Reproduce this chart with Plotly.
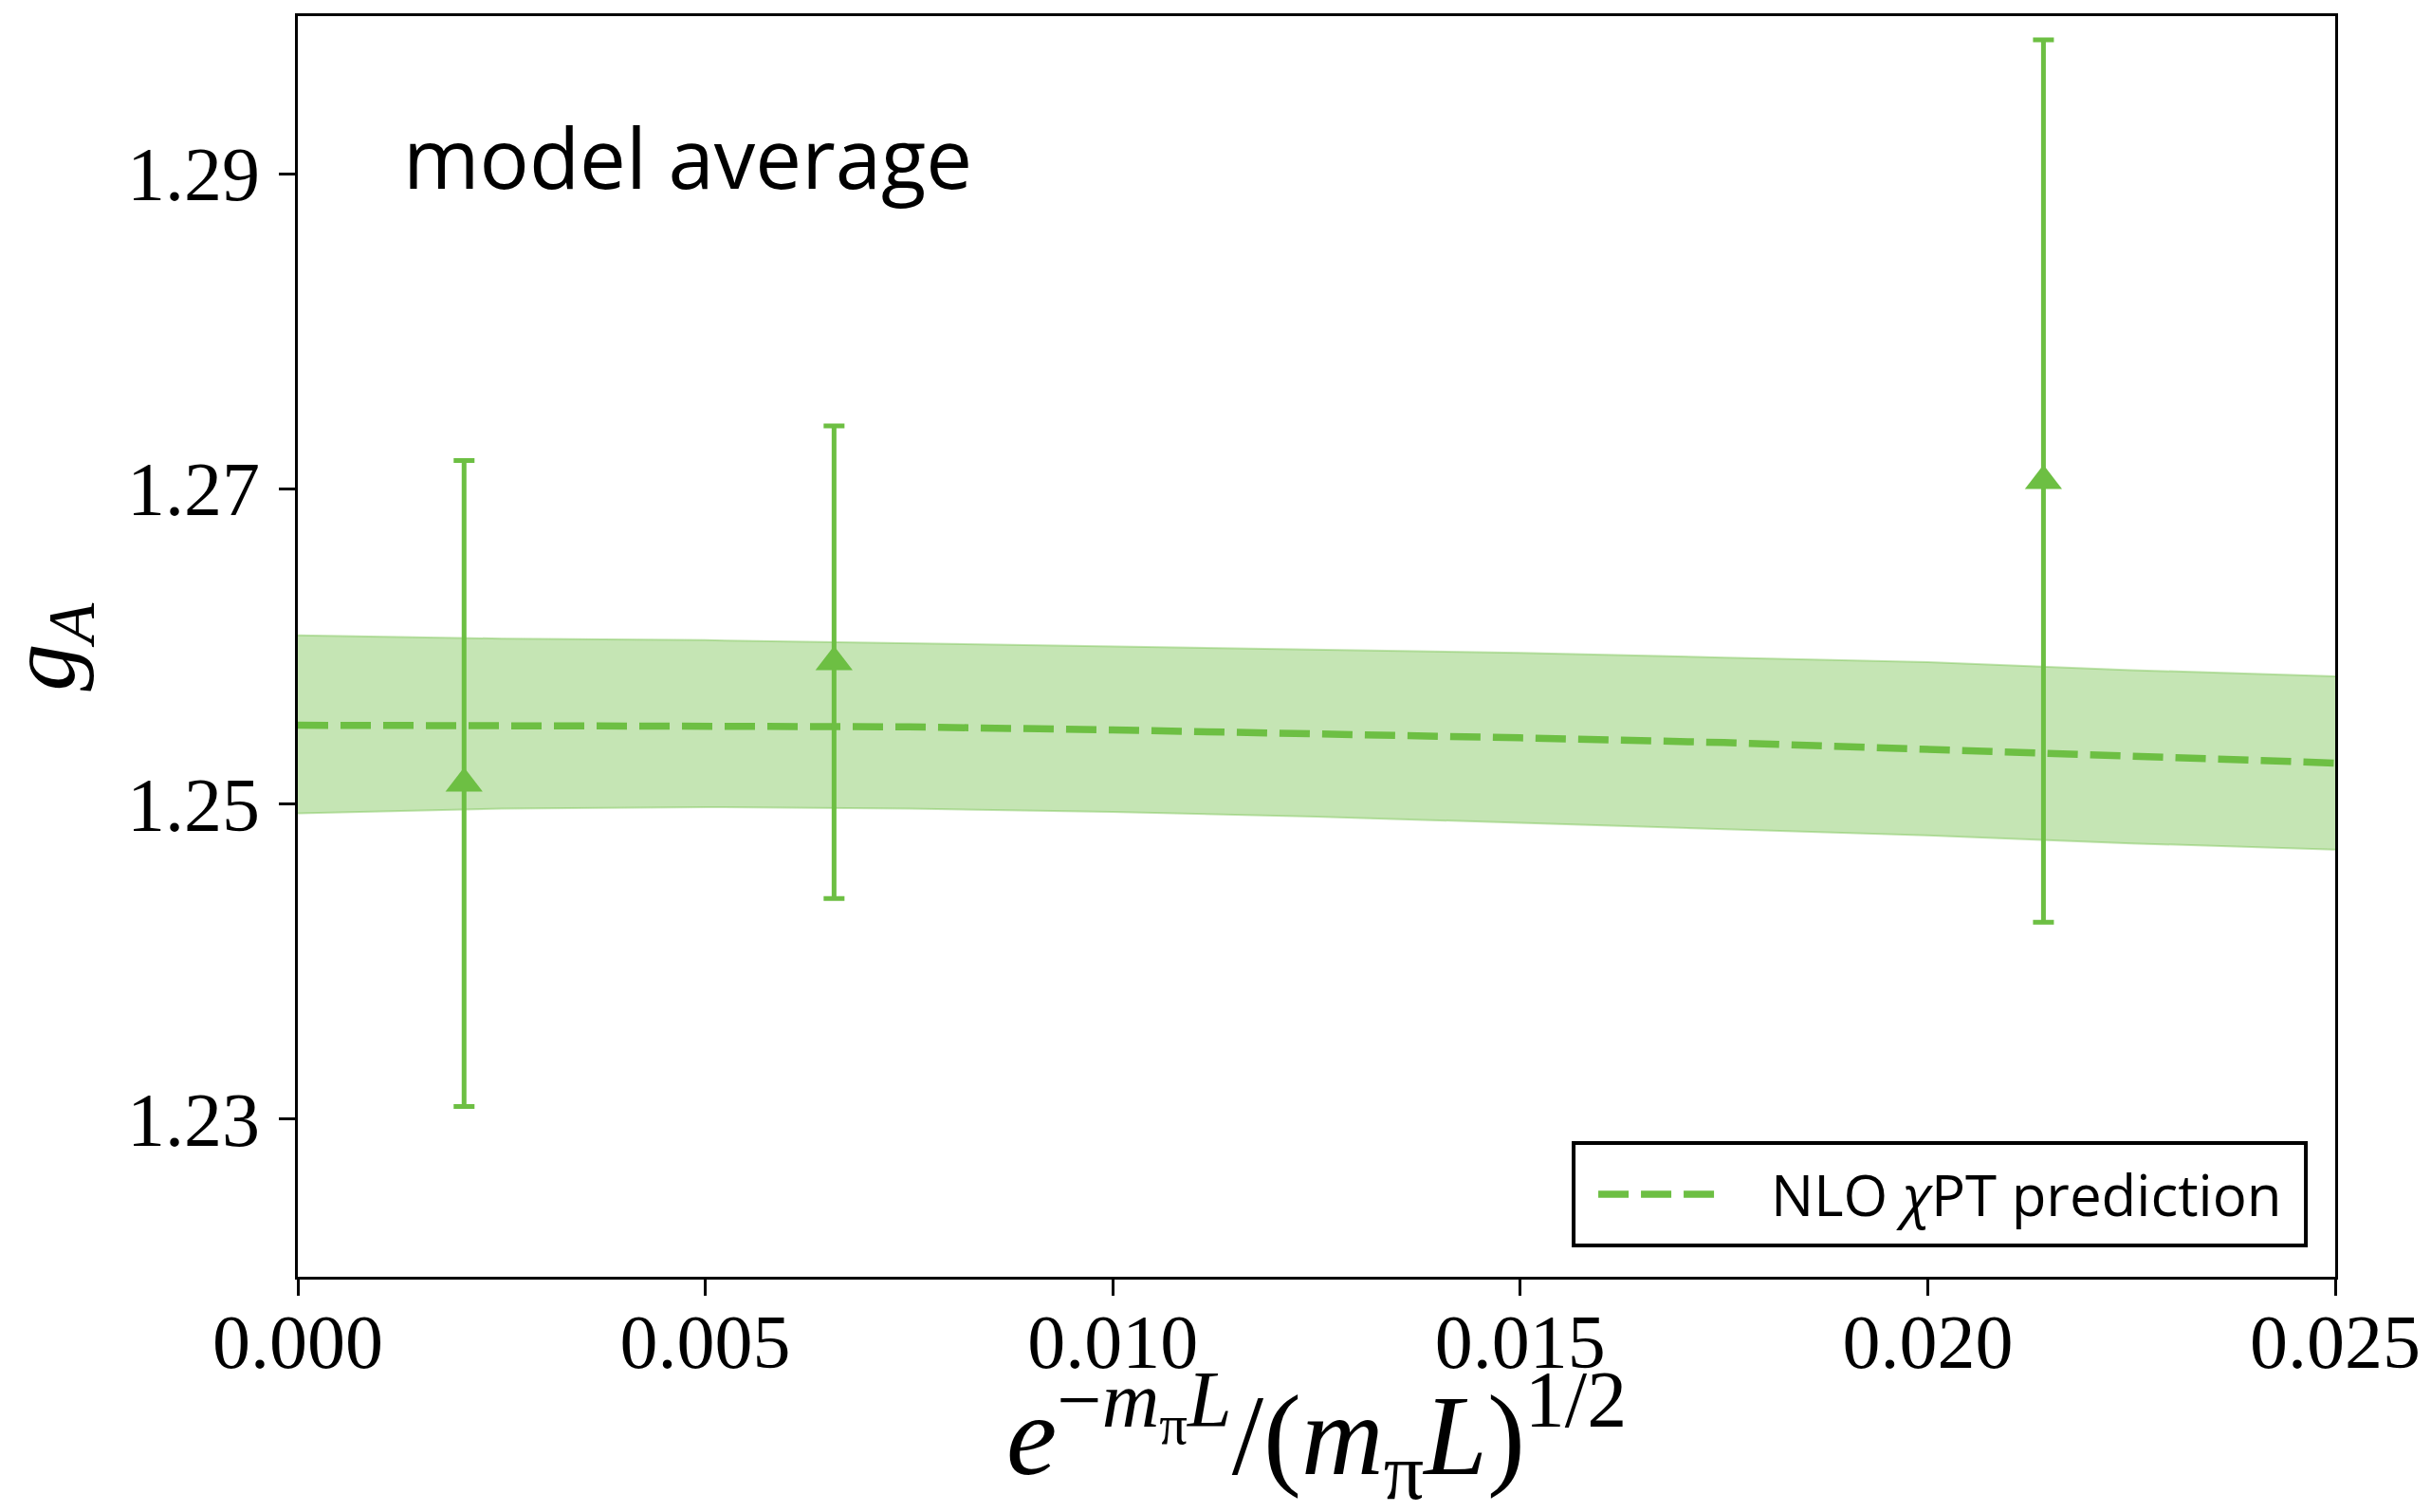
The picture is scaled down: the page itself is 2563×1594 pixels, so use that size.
import plotly.graph_objects as go

# Lattice data: finite-volume parameter and g_A with symmetric uncertainties
x_data = [0.00204, 0.00658, 0.02142]
ga_data = [1.2513, 1.2590, 1.2705]
ga_err = [0.0205, 0.0150, 0.0280]

# NLO chiral perturbation theory prediction: central curve and error band
x_band = [0.0, 0.0025, 0.005, 0.0075, 0.010, 0.0125, 0.015, 0.0175, 0.020, 0.0225, 0.025]
ga_center = [1.2550, 1.2550, 1.2550, 1.2549, 1.2547, 1.2545, 1.2542, 1.2539, 1.2535, 1.2530, 1.2526]
ga_lower = [1.2494, 1.2497, 1.2498, 1.2497, 1.2495, 1.2492, 1.2488, 1.2484, 1.2480, 1.2475, 1.2471]
ga_upper = [1.2607, 1.2605, 1.2604, 1.2602, 1.2600, 1.2598, 1.2596, 1.2593, 1.2590, 1.2585, 1.2581]

x_ticks = [0.0, 0.005, 0.010, 0.015, 0.020, 0.025]
y_ticks = [1.23, 1.25, 1.27, 1.29]

GREEN = "rgb(109,191,67)"
BAND = "rgba(109,191,67,0.4)"
SERIF = "Liberation Serif"
SANS = "Open Sans"
DASH = "32px,13px"

fig = go.Figure()

fig.add_trace(go.Scatter(x=x_band, y=ga_lower, mode="lines",
                         line=dict(color=BAND, width=2), showlegend=False,
                         hoverinfo="skip"))
fig.add_trace(go.Scatter(x=x_band, y=ga_upper, mode="lines",
                         line=dict(color=BAND, width=2), fill="tonexty",
                         fillcolor=BAND, showlegend=False, hoverinfo="skip"))
fig.add_trace(go.Scatter(x=x_band, y=ga_center, mode="lines",
                         line=dict(color=GREEN, width=7.5, dash=DASH),
                         name="NLO χPT prediction", showlegend=False))
fig.add_trace(go.Scatter(x=x_data, y=ga_data, mode="markers",
                         marker=dict(symbol="triangle-up", size=34, color=GREEN),
                         error_y=dict(type="data", array=ga_err, visible=True,
                                      color=GREEN, thickness=5, width=11),
                         showlegend=False))

axis_common = dict(showgrid=False, zeroline=False, showline=True, linecolor="black",
                   linewidth=3, mirror=True, ticks="outside", ticklen=17,
                   tickwidth=3, tickcolor="black",
                   tickfont=dict(family=SERIF, size=80, color="black"))

fig.update_xaxes(range=[0, 0.025], tickvals=x_ticks,
                 ticktext=[f"{v:.3f}" for v in x_ticks], ticklabelstandoff=-20,
                 **axis_common)
fig.update_yaxes(range=[1.22, 1.30], tickvals=y_ticks,
                 ticktext=[f"{v:.2f}" for v in y_ticks], ticklabelstandoff=4,
                 **axis_common)

annotations = [
    dict(text="model average", x=0.0507, y=0.889, xref="paper", yref="paper",
         xanchor="left", yanchor="middle", showarrow=False,
         font=dict(family=SANS, size=87, color="black")),
    dict(text="<i>e</i><sup>−<i>m</i><sub>π</sub><i>L</i></sup>/(<i>m</i><sub>π</sub><i>L</i>)<sup>1/2</sup>",
         x=0.5, y=-0.126, xref="paper", yref="paper", xanchor="center", yanchor="middle",
         showarrow=False, font=dict(family=SERIF, size=120, color="black")),
    dict(text="<i>g</i><sub><i>A</i></sub>", x=-0.122, y=0.5, xref="paper", yref="paper",
         xanchor="center", yanchor="middle", textangle=-90, showarrow=False,
         font=dict(family=SERIF, size=100, color="black")),
    dict(text="NLO <i>χ</i>PT prediction", x=0.722, y=0.0655, xref="paper", yref="paper",
         xanchor="left", yanchor="middle", showarrow=False,
         font=dict(family=SANS, size=60, color="black")),
]

shapes = [
    dict(type="rect", xref="paper", yref="paper", x0=0.6262, x1=0.9856, y0=0.0248, y1=0.1061,
         line=dict(color="black", width=4), fillcolor="white", layer="above"),
    dict(type="line", xref="paper", yref="paper", x0=0.6383, x1=0.6969, y0=0.0655, y1=0.0655,
         line=dict(color=GREEN, width=7.5, dash=DASH), layer="above"),
]

fig.update_layout(width=2563, height=1594,
                  margin=dict(l=314, r=101, t=17, b=248),
                  paper_bgcolor="white", plot_bgcolor="white",
                  annotations=annotations, shapes=shapes, showlegend=False)

fig.write_html("out.html")
